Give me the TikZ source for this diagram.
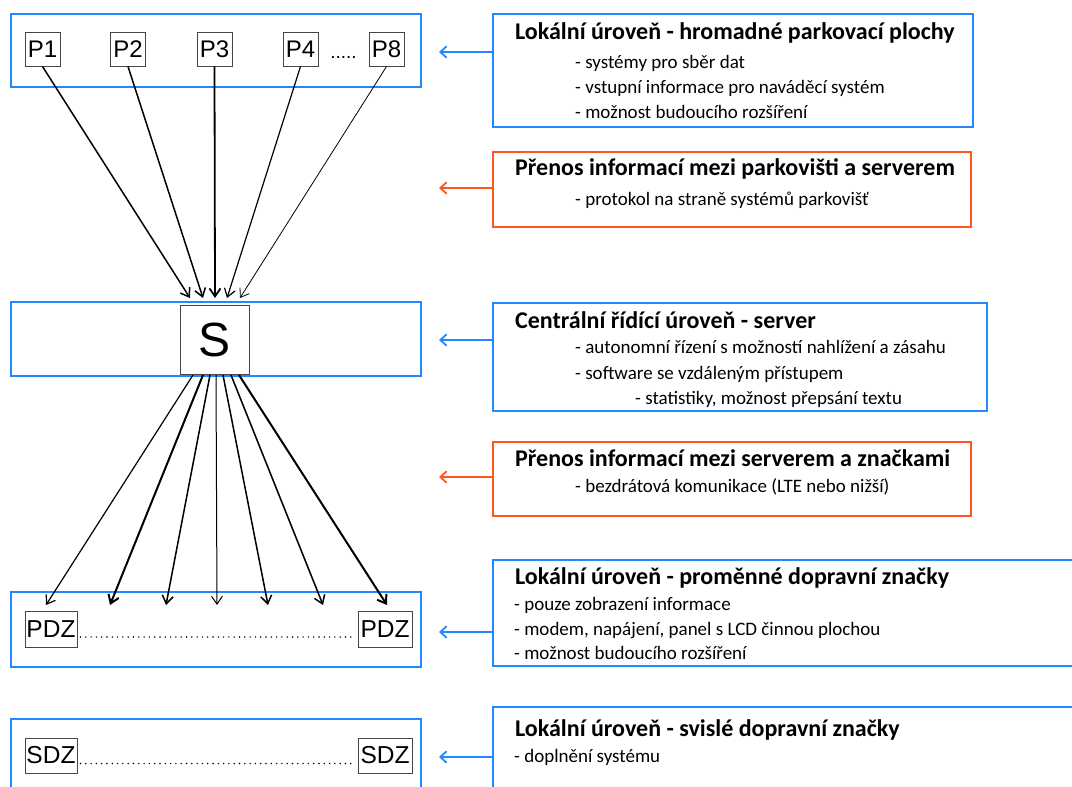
\documentclass[tikz,border=0pt]{standalone}
\usepackage{fontspec}
\setmainfont{Carlito}
\newfontfamily\arialf{Liberation Sans}
\usetikzlibrary{arrows.meta,calc}
\definecolor{myblue}{RGB}{35,135,255}
\definecolor{myorange}{RGB}{255,85,35}
\definecolor{boxgray}{RGB}{70,70,70}
\tikzset{
  lvlbox/.style={draw=myblue,line width=2pt,inner sep=0pt},
  bluebox/.style={draw=myblue,line width=2pt,inner sep=0pt},
  orangebox/.style={draw=myorange,line width=2pt,inner sep=0pt},
  elem/.style={draw=boxgray,line width=1pt,fill=white,inner sep=0pt,font=\arialf\fontsize{24}{26}\selectfont},
  ttl/.style={anchor=base west,inner sep=0pt,font=\bfseries\fontsize{24}{28}\selectfont},
  itm/.style={anchor=base west,inner sep=0pt,font=\fontsize{19}{22}\selectfont},
  tip/.style={-{Straight Barb[length=8pt,width=11pt]}},
  conn/.style={tip,black},
  bluearr/.style={draw=myblue,line width=1.8pt,-{Straight Barb[length=6pt,width=11pt,line cap=round]}},
  orangearr/.style={draw=myorange,line width=1.8pt,-{Straight Barb[length=6pt,width=11pt,line cap=round]}},
  dotline/.style={draw=black,line width=1.6pt,line cap=round,dash pattern=on 0pt off 5.3pt}
}
\begin{document}
\begin{tikzpicture}[x=1pt,y=-1pt]
\useasboundingbox (0,0) rectangle (1072,787);
\clip (0,0) rectangle (1072,787);
% left level boxes
\node[lvlbox,minimum width=410pt,minimum height=73pt] (L1) at (216,50.5) {};
\node[lvlbox,minimum width=410pt,minimum height=74pt] (L2) at (216,339) {};
\node[lvlbox,minimum width=410pt,minimum height=75pt] (L3) at (216,629.5) {};
\draw[draw=myblue,line width=2pt] (11,800) -- (11,719) -- (421,719) -- (421,800);
% parking nodes
\node[elem,minimum width=35pt,minimum height=34pt] (P1) at (42.5,49) {P1};
\node[elem,minimum width=35pt,minimum height=34pt] (P2) at (128,49) {P2};
\node[elem,minimum width=35pt,minimum height=34pt] (P3) at (214.5,49) {P3};
\node[elem,minimum width=35pt,minimum height=34pt] (P4) at (300.5,49) {P4};
\node[elem,minimum width=35pt,minimum height=34pt] (P8) at (386.5,49) {P8};
\node[inner sep=0pt,font=\arialf\fontsize{19}{20}\selectfont,anchor=base] (pdots) at (343.5,58) {.....};
% server
\node[elem,minimum width=69pt,minimum height=69pt,font=\arialf\fontsize{48}{50}\selectfont] (S) at (214.5,339.5) {S};
% PDZ / SDZ
\node[elem,minimum width=52pt,minimum height=36pt,font=\arialf\fontsize{24.5}{26}\selectfont] (PDZa) at (51,629) {PDZ};
\node[elem,minimum width=54pt,minimum height=36pt,font=\arialf\fontsize{24.5}{26}\selectfont] (PDZb) at (385,629) {PDZ};
\node[elem,minimum width=52pt,minimum height=35pt,font=\arialf\fontsize{24.5}{26}\selectfont] (SDZa) at (51,755.5) {SDZ};
\node[elem,minimum width=54pt,minimum height=35pt,font=\arialf\fontsize{24.5}{26}\selectfont] (SDZb) at (385,755.5) {SDZ};
\draw[dotline] ($(PDZa.east)+(3,8)$) -- ($(PDZb.west)+(-2,8)$);
\draw[dotline] ($(SDZa.east)+(3,8)$) -- ($(SDZb.west)+(-2,8)$);
% arrow tips into S
\coordinate (s1) at (190,298);
\coordinate (s2) at (203,298);
\coordinate (s3) at (215,298);
\coordinate (s4) at (227,298);
\coordinate (s5) at (240,298);
\draw[conn,line width=1.5pt] (P1.south) -- (s1);
\draw[conn,line width=1.5pt] (P2.south) -- (s2);
\draw[conn,line width=1.8pt] (P3.south) -- (s3);
\draw[conn,line width=1.2pt] (P4.south) -- (s4);
\draw[conn,line width=0.8pt] (P8.south) -- (s5);
% arrows from S to PDZ level
\coordinate (o1) at (193,375);
\coordinate (o2) at (203,375);
\coordinate (o3) at (210,375);
\coordinate (o4) at (216,375);
\coordinate (o5) at (223,375);
\coordinate (o6) at (231,375);
\coordinate (o7) at (239,375);
\coordinate (d1) at (46,605);
\coordinate (d2) at (110,605);
\coordinate (d3) at (166,605);
\coordinate (d4) at (217,605);
\coordinate (d5) at (268,605);
\coordinate (d6) at (323,605);
\coordinate (d7) at (387,605);
\draw[conn,line width=1.2pt] (o1) -- (d1);
\draw[conn,line width=2pt] (o2) -- (d2);
\draw[conn,line width=1.5pt] (o3) -- (d3);
\draw[conn,line width=1pt] (o4) -- (d4);
\draw[conn,line width=1.5pt] (o5) -- (d5);
\draw[conn,line width=1.5pt] (o6) -- (d6);
\draw[conn,line width=2pt] (o7) -- (d7);
% right boxes
\node[bluebox,minimum width=480pt,minimum height=113pt] (R1) at (733,70.5) {};
\node[orangebox,minimum width=478pt,minimum height=75pt] (R2) at (732,189.5) {};
\node[bluebox,minimum width=494pt,minimum height=108pt] (R3) at (740,357) {};
\node[orangebox,minimum width=478pt,minimum height=74pt] (R4) at (732,479) {};
\node[bluebox,minimum width=620pt,minimum height=106pt] (R5) at (803,613) {};
\node[bluebox,minimum width=620pt,minimum height=120pt] (R6) at (803,767) {};
% texts
\node[ttl] (t1) at (515,39) {Lokální úroveň - hromadné parkovací plochy};
\node[itm] (i11) at (575,68) {- systémy pro sběr dat};
\node[itm] (i12) at (575,93) {- vstupní informace pro naváděcí systém};
\node[itm] (i13) at (575,118) {- možnost budoucího rozšíření};
\node[ttl] (t2) at (515,175) {Přenos informací mezi parkovišti a serverem};
\node[itm] (i21) at (575,205) {- protokol na straně systémů parkovišť};
\node[ttl] (t3) at (515,328) {Centrální řídící úroveň - server};
\node[itm] (i31) at (575,353) {- autonomní řízení s možností nahlížení a zásahu};
\node[itm] (i32) at (575,379) {- software se vzdáleným přístupem};
\node[itm] (i33) at (635,404) {- statistiky, možnost přepsání textu};
\node[ttl] (t4) at (515,466) {Přenos informací mezi serverem a značkami};
\node[itm] (i41) at (575,492) {- bezdrátová komunikace (LTE nebo nižší)};
\node[ttl] (t5) at (515,584) {Lokální úroveň - proměnné dopravní značky};
\node[itm] (i51) at (514,610) {- pouze zobrazení informace};
\node[itm] (i52) at (514,635) {- modem, napájení, panel s LCD činnou plochou};
\node[itm] (i53) at (514,659) {- možnost budoucího rozšíření};
\node[ttl] (t6) at (515,736) {Lokální úroveň - svislé dopravní značky};
\node[itm] (i61) at (514,762) {- doplnění systému};
% side arrows
\coordinate (a1) at (439,52);
\coordinate (a2) at (439,188);
\coordinate (a3) at (439,340);
\coordinate (a4) at (439,477);
\coordinate (a5) at (439,632);
\coordinate (a6) at (439,757);
\draw[bluearr] (R1.west |- a1) -- (a1);
\draw[orangearr] (R2.west |- a2) -- (a2);
\draw[bluearr] (R3.west |- a3) -- (a3);
\draw[orangearr] (R4.west |- a4) -- (a4);
\draw[bluearr] (R5.west |- a5) -- (a5);
\draw[bluearr] (R6.west |- a6) -- (a6);
\end{tikzpicture}
\end{document}
